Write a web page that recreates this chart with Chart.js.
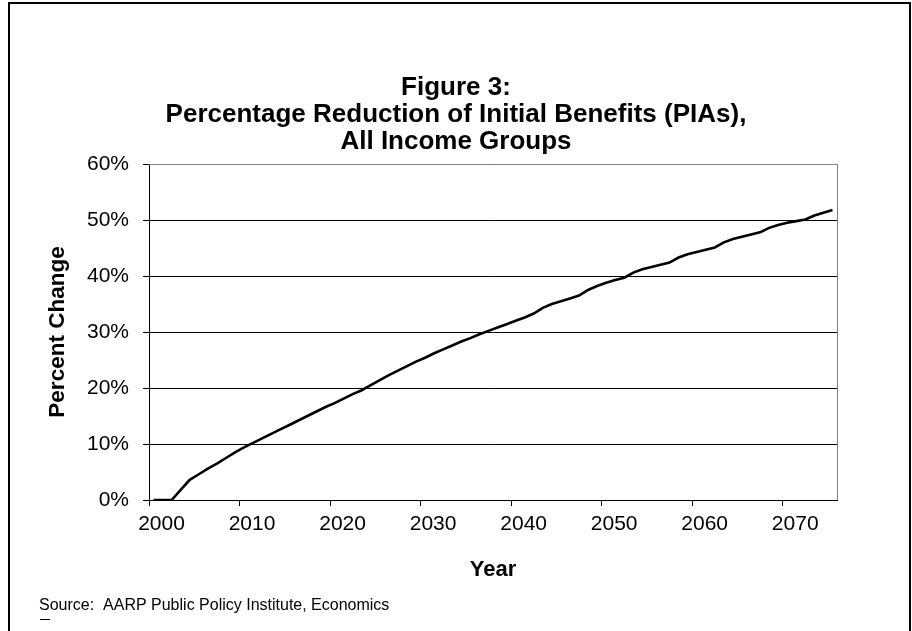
<!DOCTYPE html>
<html>
<head>
<meta charset="utf-8">
<script src="https://cdn.jsdelivr.net/npm/chart.js@4/dist/chart.umd.min.js"></script>
<style>
  html, body { margin: 0; padding: 0; background: #fff; }
  #wrap { width: 912px; height: 631px; position: relative; }
</style>
</head>
<body>
<div id="wrap"><canvas id="c"></canvas></div>
<script>
const years = [];
for (let y = 2000; y <= 2075; y++) years.push(String(y));

const reductionPct = [
  0, 0, 0, 1.8, 3.6, 4.6, 5.6, 6.5, 7.5, 8.5,
  9.4, 10.2, 11.0, 11.8, 12.6, 13.4, 14.2, 15.0, 15.8, 16.6,
  17.3, 18.1, 18.9, 19.6, 20.5, 21.4, 22.3, 23.1, 23.9, 24.7,
  25.4, 26.2, 26.9, 27.6, 28.3, 28.9, 29.6, 30.2, 30.8, 31.4,
  32.0, 32.6, 33.3, 34.3, 35.0, 35.5, 36.0, 36.5, 37.5, 38.2,
  38.8, 39.3, 39.7, 40.6, 41.2, 41.6, 42.0, 42.4, 43.3, 43.9,
  44.3, 44.7, 45.1, 46.0, 46.6, 47.0, 47.4, 47.8, 48.6, 49.1,
  49.5, 49.8, 50.1, 50.8, 51.3, 51.8
];

const yTicks = [0, 10, 20, 30, 40, 50, 60];
const titleLines = ['Figure 3:', 'Percentage Reduction of Initial Benefits (PIAs),', 'All Income Groups'];
const xTitle = 'Year';
const yTitle = 'Percent Change';
const sourceNote = 'Source:  AARP Public Policy Institute, Economics';

const FONT = '"Liberation Sans", Arial, Helvetica, sans-serif';

const framePlugin = {
  id: 'frame',
  beforeDraw(chart) {
    const ctx = chart.ctx;
    ctx.save();
    ctx.fillStyle = '#fff';
    ctx.fillRect(0, 0, chart.width, chart.height);
    ctx.restore();
  },
  afterDraw(chart) {
    const ctx = chart.ctx;
    const a = chart.chartArea;
    ctx.save();
    // plot area border (top / right)
    ctx.strokeStyle = '#808080';
    ctx.lineWidth = 1;
    ctx.beginPath();
    ctx.moveTo(a.left, Math.round(a.top) + 0.5);
    ctx.lineTo(Math.round(a.right) + 0.5, Math.round(a.top) + 0.5);
    ctx.lineTo(Math.round(a.right) + 0.5, a.bottom);
    ctx.stroke();
    // outer frame
    ctx.strokeStyle = '#000';
    ctx.lineWidth = 2;
    ctx.beginPath();
    ctx.moveTo(9, chart.height);
    ctx.lineTo(9, 3);
    ctx.lineTo(910, 3);
    ctx.lineTo(910, chart.height);
    ctx.stroke();
    // source note
    ctx.fillStyle = '#000';
    ctx.font = '16px ' + FONT;
    ctx.textBaseline = 'middle';
    ctx.textAlign = 'left';
    ctx.fillText(sourceNote, 39, 606);
    ctx.lineWidth = 1;
    ctx.beginPath();
    ctx.moveTo(40, 619.5);
    ctx.lineTo(50, 619.5);
    ctx.stroke();
    ctx.restore();
  }
};

new Chart(document.getElementById('c'), {
  type: 'line',
  data: {
    labels: years,
    datasets: [{
      label: 'Reduction',
      data: reductionPct,
      borderColor: '#000',
      borderWidth: 2.6,
      pointRadius: 0,
      tension: 0,
      fill: false,
      yAxisID: 'y'
    }]
  },
  plugins: [framePlugin],
  options: {
    responsive: true,
    maintainAspectRatio: false,
    animation: false,
    layout: { padding: { left: 0, right: 0, top: 0, bottom: 0 } },
    plugins: {
      legend: { display: false },
      tooltip: { enabled: false },
      title: {
        display: true,
        text: titleLines,
        color: '#000',
        font: { family: FONT, size: 26, weight: 'bold', lineHeight: 27 / 26 },
        padding: { top: 74, bottom: 9 }
      }
    },
    scales: {
      x: {
        type: 'category',
        offset: true,
        afterFit(scale) { scale.height = 131; },
        grid: {
          offset: true,
          drawOnChartArea: false,
          drawTicks: true,
          tickLength: 6,
          color: '#000',
          tickColor: (c) => (c.index % 10 === 0 ? '#000' : 'rgba(0,0,0,0)')
        },
        border: { color: '#000', width: 1 },
        ticks: {
          autoSkip: false,
          maxRotation: 0,
          minRotation: 0,
          padding: 6,
          labelOffset: 8,
          color: '#000',
          font: { family: FONT, size: 21 },
          callback: function (v, i) { return (i % 10 === 0) ? years[i] : ''; }
        },
        title: {
          display: true,
          text: xTitle,
          color: '#000',
          font: { family: FONT, size: 22, weight: 'bold', lineHeight: 1.2 },
          padding: { top: 0, bottom: 48 }
        }
      },
      y: {
        position: 'left',
        min: 0,
        max: 60,
        afterFit(scale) { scale.width = 149; },
        afterBuildTicks(scale) { scale.ticks = yTicks.map(v => ({ value: v })); },
        grid: {
          color: '#000',
          lineWidth: 1,
          drawTicks: true,
          tickLength: 6,
          tickColor: '#000'
        },
        border: { color: '#000', width: 1 },
        ticks: {
          padding: 14,
          color: '#000',
          font: { family: FONT, size: 21 },
          callback: (v) => v + '%'
        },
        title: {
          display: true,
          text: yTitle,
          color: '#000',
          font: { family: FONT, size: 22.5, weight: 'bold', lineHeight: 1.2 },
          padding: { top: 44, bottom: 0 }
        }
      },
      spacer: {
        type: 'linear',
        position: 'right',
        display: true,
        afterFit(scale) { scale.width = 75; },
        grid: { drawOnChartArea: false, drawTicks: false },
        border: { display: false },
        ticks: { display: false }
      }
    }
  }
});
</script>
</body>
</html>
